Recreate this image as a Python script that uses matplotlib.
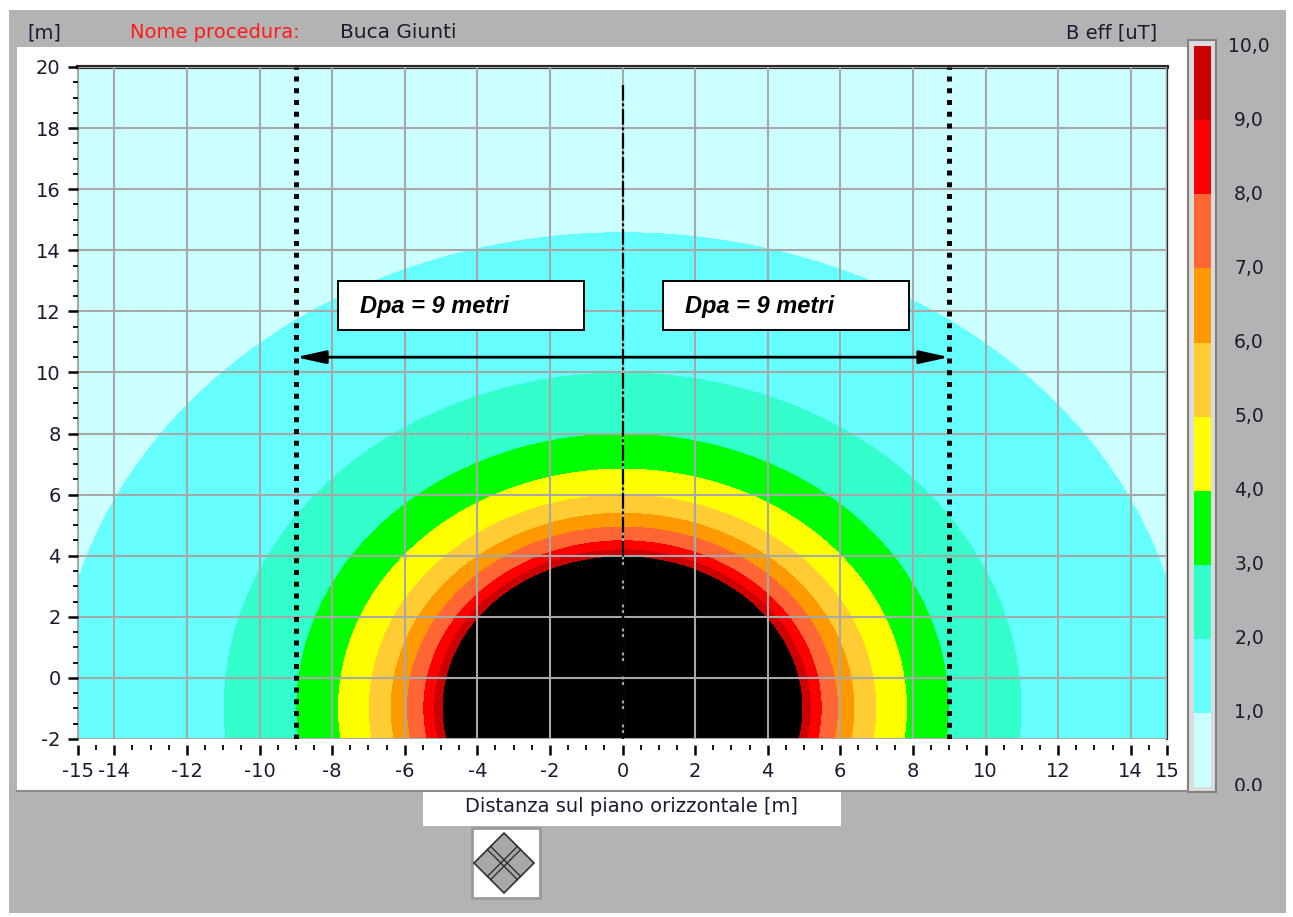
import numpy as np
import matplotlib
matplotlib.use("Agg")
import matplotlib.pyplot as plt
from matplotlib.colors import ListedColormap, BoundaryNorm
from matplotlib.patches import Rectangle, Polygon
from matplotlib.ticker import MultipleLocator, FixedLocator
from matplotlib.transforms import Bbox

plt.rcParams['font.family'] = ['DejaVu Sans']
plt.rcParams['axes.unicode_minus'] = False

# ---- data -------------------------------------------------------------
# B eff levels (uT) and the distance (m) from the conductor at which each is reached
level_values = [1.0, 2.0, 3.0, 4.0, 5.0, 6.0, 7.0, 8.0, 9.0, 10.0]
level_radius = [15.6, 11.0, 9.0, 7.85, 7.0, 6.4, 5.95, 5.5, 5.2, 4.97]
source_x = 0.0
source_y = -1.0

band_colors = ['#CCFFFF', '#66FFFF', '#33FFCC', '#00FF00', '#FFFF00',
               '#FFCC33', '#FF9900', '#FF6633', '#FF0000', '#CC0000']
over_color = '#000000'
colorbar_values = [0, 1, 2, 3, 4, 5, 6, 7, 8, 9, 10]
colorbar_labels = ['0,0', '1,0', '2,0', '3,0', '4,0', '5,0',
                   '6,0', '7,0', '8,0', '9,0', '10,0']

x_ticks = [-15, -14, -12, -10, -8, -6, -4, -2, 0, 2, 4, 6, 8, 10, 12, 14, 15]
y_ticks = [-2, 0, 2, 4, 6, 8, 10, 12, 14, 16, 18, 20]
x_range = (-15, 15)
y_range = (-2, 20)

dpa_m = 9.0
dpa_label = 'Dpa = 9 metri'
arrow_y = 10.5

# ---- figure -----------------------------------------------------------
W, H = 1293, 917
fig = plt.figure(figsize=(W / 100, H / 100), dpi=100)
fig.patch.set_facecolor('white')

TXT = '#1c1a30'

# background panel drawn in pixel coordinates
bg = fig.add_axes([0, 0, 1, 1], zorder=-1)
bg.set_xlim(0, W)
bg.set_ylim(H, 0)
bg.axis('off')
bg.add_patch(Rectangle((9, 10), 1277, 903, facecolor='#B3B3B3', edgecolor='none'))
bg.add_patch(Rectangle((17, 47), 1170, 743, facecolor='white', edgecolor='none'))
bg.plot([17, 1187], [791, 791], color='#8a8a8a', lw=1.5)
bg.add_patch(Rectangle((423, 790), 418, 36, facecolor='white', edgecolor='none'))

bg.text(27, 33, '[m]', fontsize=14, color=TXT, va='center', ha='left')
bg.text(130, 33, 'Nome procedura:', fontsize=14, color='#FF1A1A', va='center', ha='left')
bg.text(340, 33, 'Buca Giunti', fontsize=14.5, color=TXT, va='center', ha='left')
bg.text(1157, 33, 'B eff [uT]', fontsize=14, color=TXT, va='center', ha='right')
bg.text(631, 806, 'Distanza sul piano orizzontale [m]', fontsize=14, color=TXT,
        va='center', ha='center')

# small navigation button below the axis title
bg.add_patch(Rectangle((472, 828), 68, 70, facecolor='white', edgecolor='#9a9a9a', lw=2))
cx, cy, rr = 504, 863, 30
bg.add_patch(Polygon([(cx, cy - rr), (cx + rr, cy), (cx, cy + rr), (cx - rr, cy)],
                     closed=True, facecolor='#a8a8a8', edgecolor='#303030', lw=1.2))
h = rr / 2
for (x0, y0, x1, y1, ox, oy) in [(cx + h, cy - h, cx - h, cy + h, 1.6, 1.6),
                                 (cx - h, cy - h, cx + h, cy + h, 1.6, -1.6)]:
    for s in (-1, 1):
        bg.plot([x0 + s * ox, x1 + s * ox], [y0 + s * oy, y1 + s * oy], color='#303030', lw=1.0)

# colour scale frame and labels
bg.add_patch(Rectangle((1188, 40), 28, 752, facecolor='#dcdcdc', edgecolor='#808080', lw=1.5))
cb_top, cb_bot = 46, 787
lab_top = 47
for v, lab in zip(colorbar_values, colorbar_labels):
    ypix = cb_bot - (cb_bot - lab_top) * v / 10.0
    t = bg.text(1249, ypix, lab, fontsize=13.5, color=TXT, va='center', ha='center')
    t.set_clip_box(Bbox.from_extents(1218, H - 791, 1292, H - 20))
    t.set_clip_on(True)

cax = fig.add_axes([1194 / W, 1 - cb_bot / H, 17 / W, (cb_bot - cb_top) / H], zorder=1)
cax.imshow(np.array(colorbar_values[:-1]).reshape(-1, 1), origin='lower',
           extent=[0, 1, 0, 10], cmap=ListedColormap(band_colors),
           norm=BoundaryNorm(np.arange(-0.5, 10.5), 10), aspect='auto',
           interpolation='nearest')
cax.set_xticks([])
cax.set_yticks([])
for s in cax.spines.values():
    s.set_visible(False)

# ---- main field map ---------------------------------------------------
ax = fig.add_axes([78 / W, 1 - 739 / H, (1167 - 78) / W, (739 - 67) / H])
nx, ny = 1090, 672
xs = np.linspace(x_range[0], x_range[1], nx)
ys = np.linspace(y_range[0], y_range[1], ny)
X, Y = np.meshgrid(xs, ys)
R = np.hypot(X - source_x, Y - source_y)
band = (R[..., None] < np.array(level_radius)).sum(axis=-1)

cmap = ListedColormap(band_colors + [over_color])
ax.imshow(band, origin='lower', extent=[x_range[0], x_range[1], y_range[0], y_range[1]],
          cmap=cmap, norm=BoundaryNorm(np.arange(-0.5, 11.5), 11),
          interpolation='nearest', aspect='auto', zorder=0)

ax.set_xlim(*x_range)
ax.set_ylim(*y_range)
ax.xaxis.set_major_locator(FixedLocator(x_ticks))
ax.yaxis.set_major_locator(FixedLocator(y_ticks))
ax.xaxis.set_minor_locator(MultipleLocator(0.5))
ax.yaxis.set_minor_locator(MultipleLocator(0.5))
ax.set_xticklabels([str(v) for v in x_ticks])
ax.set_yticklabels([str(v) for v in y_ticks])
ax.tick_params(which='major', direction='out', length=7.5, width=1.8, color='black',
               labelsize=14, labelcolor=TXT, pad=5)
ax.tick_params(which='minor', direction='out', length=3.8, width=1.3, color='black')
ax.set_axisbelow(False)
ax.grid(True, which='major', color='#A8A8A8', lw=1.5)

ax.spines['top'].set_color('#2a2a2a')
ax.spines['top'].set_linewidth(3)
ax.spines['right'].set_color('#2a2a2a')
ax.spines['right'].set_linewidth(1.6)
ax.spines['left'].set_color('#A8A8A8')
ax.spines['left'].set_linewidth(1.5)
ax.spines['bottom'].set_position(('outward', 4))
ax.spines['bottom'].set_visible(False)

# distance of first approximation markers
for xv in (-dpa_m, dpa_m):
    ax.plot([xv, xv], [y_range[0], y_range[1]], color='black', lw=3.6,
            linestyle=(0, (1, 1.35)), dash_capstyle='butt', zorder=4, clip_on=True)

# axis of the conductor
ax.plot([source_x, source_x], [19.4, y_range[0]], color='black', lw=1.6,
        linestyle=(0, (7, 1.3, 1.2, 1.3)), zorder=4)

ax.annotate('', xy=(-dpa_m, arrow_y), xytext=(dpa_m, arrow_y),
            arrowprops=dict(arrowstyle='<|-|>,head_length=1.0,head_width=0.22',
                            mutation_scale=18, lw=2, color='black',
                            shrinkA=0, shrinkB=0), zorder=5)

for bx, tx in [(-7.84, -7.23), (1.12, 1.72)]:
    ax.add_patch(Rectangle((bx, 11.38), 6.78, 1.6, facecolor='white',
                           edgecolor='black', lw=1.4, zorder=5))
    ax.text(tx, 12.17, dpa_label, fontsize=17, fontweight='bold', fontstyle='italic',
            family=['Liberation Sans', 'DejaVu Sans'], color='black',
            va='center', ha='left', zorder=6)

fig.savefig('out.png', dpi=100, facecolor='white')
